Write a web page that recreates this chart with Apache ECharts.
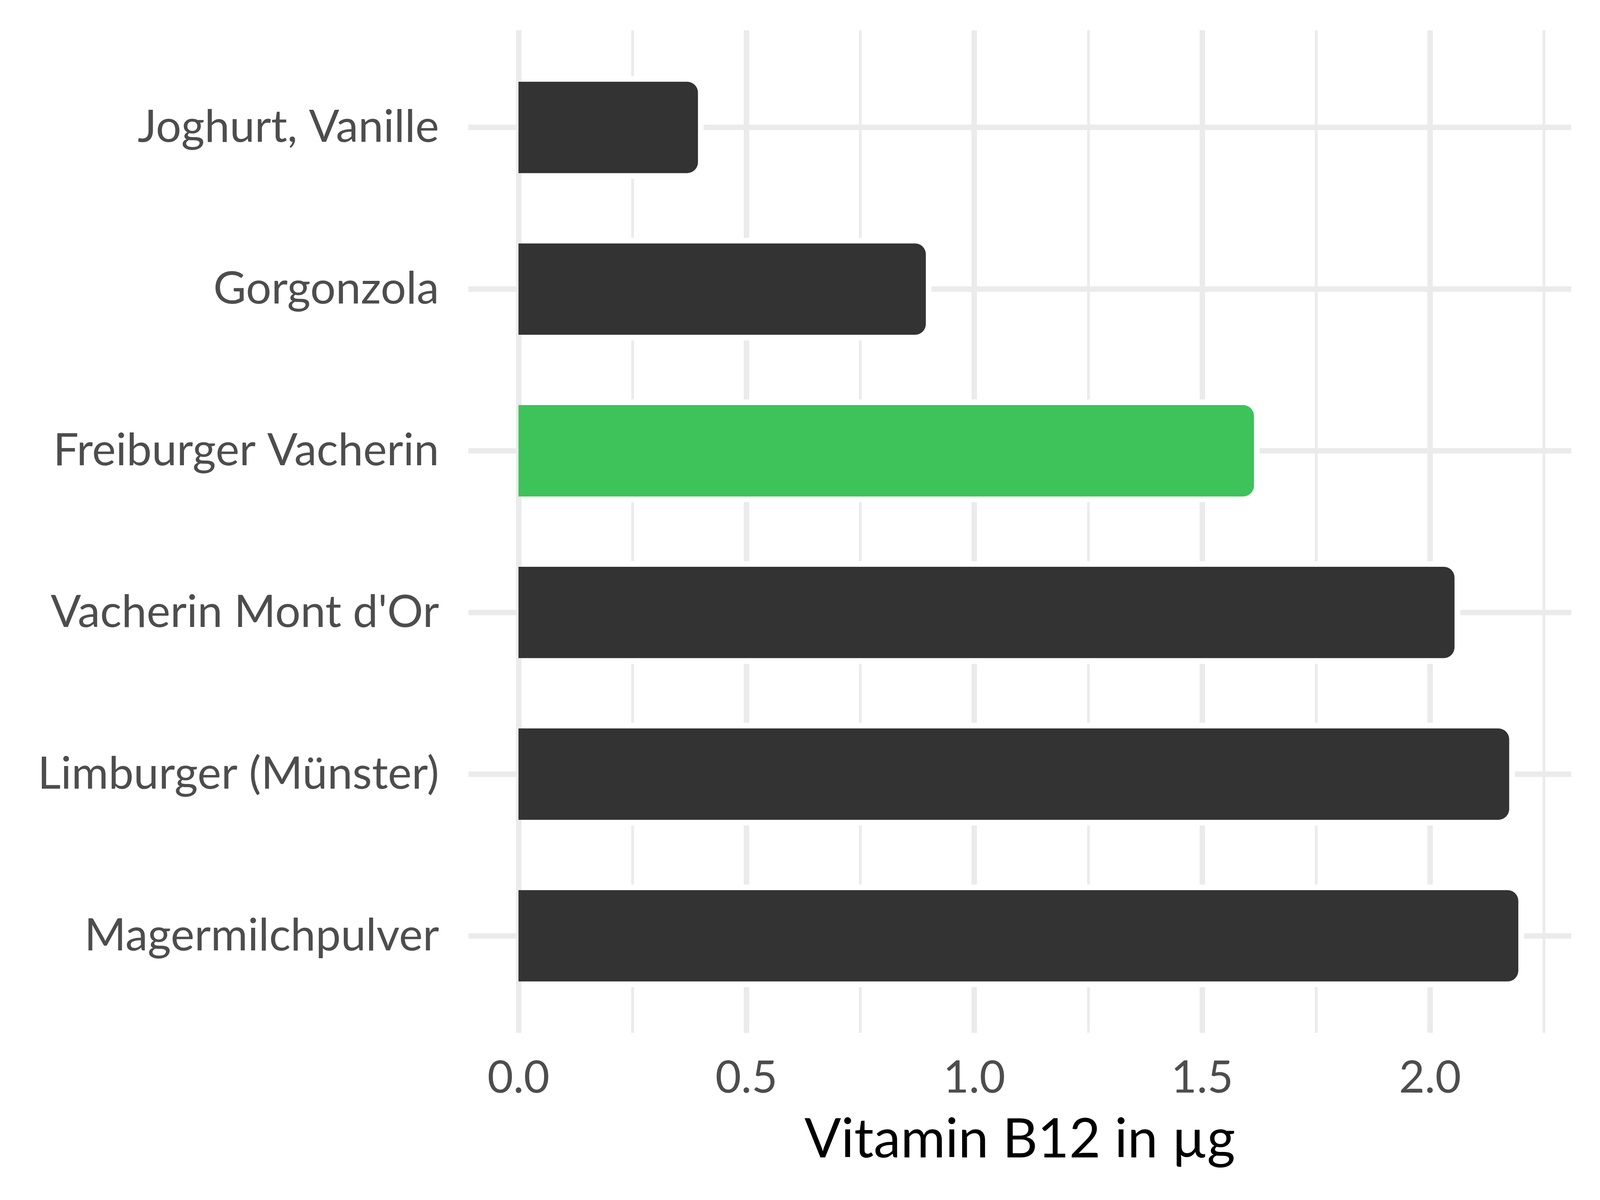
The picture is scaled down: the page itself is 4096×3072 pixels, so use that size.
<!DOCTYPE html>
<html>
<head>
<meta charset="utf-8">
<script src="https://cdn.jsdelivr.net/npm/echarts@6.0.0/dist/echarts.min.js"></script>
<style>
html,body{margin:0;padding:0;background:#ffffff;}
#chart{width:4096px;height:3072px;}
</style>
</head>
<body>
<div id="chart"></div>
<script>
// ---- data ----
const categories = ['Joghurt, Vanille', 'Gorgonzola', 'Freiburger Vacherin', "Vacherin Mont d'Or", 'Limburger (Münster)', 'Magermilchpulver'];
const values = [0.4, 0.9, 1.62, 2.06, 2.18, 2.2];
const highlighted = 'Freiburger Vacherin';
const minorTicks = [0.25, 0.75, 1.25, 1.75, 2.25];
const axisTitle = 'Vitamin B12 in µg';
const xMin = -0.11;
const xMax = 2.31;

// ---- styles ----
const FONT = 'Lato';
const GRID_COLOR = '#EBEBEB';
const BAR_COLOR = '#333333';
const HIGHLIGHT_COLOR = '#3EC25A';
const LABEL_COLOR = '#4D4D4D';
const BAR_FRACTION = 0.6;   // bar thickness as share of the category band
const HALO = 14.5;          // white outline width (px)
const RADIUS = 35;          // corner radius (px)

const chart = echarts.init(document.getElementById('chart'), null, {renderer: 'canvas'});

const barData = values.map((v, i) => ({
  value: [v, i],
  itemStyle: {color: categories[i] === highlighted ? HIGHLIGHT_COLOR : BAR_COLOR}
}));

function renderBar(params, api) {
  const v = api.value(0);
  const ci = api.value(1);
  const base = api.coord([0, ci]);
  const end = api.coord([v, ci]);
  const band = api.size([0, 1])[1];
  const h = band * BAR_FRACTION;
  const len = end[0] - base[0];
  const color = api.visual('color');
  return {
    type: 'group',
    children: [
      {
        type: 'rect',
        shape: {x: base[0] + 10, y: base[1] - h / 2 - HALO / 2, width: len + HALO / 2 - 10, height: h + HALO,
          r: [0, RADIUS + HALO / 2, RADIUS + HALO / 2, 0]},
        style: {fill: '#ffffff'}
      },
      {
        type: 'rect',
        shape: {x: base[0], y: base[1] - h / 2 + HALO / 2, width: len - HALO / 2, height: h - HALO,
          r: [0, RADIUS - HALO / 2, RADIUS - HALO / 2, 0]},
        style: {fill: color}
      }
    ]
  };
}

const option = {
  backgroundColor: '#ffffff',
  animation: false,
  grid: [
    // bar area (category bands)
    {left: 1199, right: 73.5, top: 119.3, bottom: 469.4},
    // full panel (for vertical gridlines and x axis)
    {left: 1199, right: 73.5, top: 77.6, bottom: 428}
  ],
  xAxis: [
    {
      gridIndex: 0, type: 'value', min: xMin, max: xMax, show: false
    },
    {
      gridIndex: 1, type: 'value', min: xMin, max: xMax,
      axisLine: {show: false}, axisTick: {show: false},
      splitLine: {show: true, showMinLine: false, showMaxLine: false,
        lineStyle: {color: GRID_COLOR, width: 14, type: 'solid'}},
      axisLabel: {
        show: true, showMinLabel: false, showMaxLabel: false,
        formatter: v => v.toFixed(1),
        fontFamily: FONT, fontSize: 114, lineHeight: 114, color: LABEL_COLOR, margin: 59
      },
      name: axisTitle, nameLocation: 'middle', nameGap: 205,
      nameTextStyle: {fontFamily: FONT, fontSize: 139, lineHeight: 139, color: '#000000'}
    }
  ],
  yAxis: [
    {
      gridIndex: 0, type: 'category', data: categories, inverse: true,
      axisLine: {show: false}, axisTick: {show: false}, splitLine: {show: false},
      axisLabel: {fontFamily: FONT, fontSize: 115, color: LABEL_COLOR, margin: 75, padding: [10, 0, 0, 0]}
    },
    {
      gridIndex: 1, type: 'value', min: 0, max: 1, show: false
    }
  ],
  series: [
    {
      type: 'custom', xAxisIndex: 0, yAxisIndex: 0,
      data: barData,
      encode: {x: 0, y: 1},
      renderItem: renderBar,
      z: 2,
      silent: true
    },
    {
      type: 'line', xAxisIndex: 0, yAxisIndex: 0,
      data: [],
      z: 1,
      markLine: {
        silent: true, z: 1, symbol: ['none', 'none'],
        label: {show: false},
        lineStyle: {color: GRID_COLOR, width: 14, type: 'solid'},
        emphasis: {disabled: true},
        data: categories.map(c => ({yAxis: c}))
      }
    },
    {
      type: 'line', xAxisIndex: 1, yAxisIndex: 1,
      data: [],
      z: 1,
      markLine: {
        silent: true, z: 1, symbol: ['none', 'none'],
        label: {show: false},
        lineStyle: {color: GRID_COLOR, width: 7, type: 'solid'},
        emphasis: {disabled: true},
        data: minorTicks.map(t => ({xAxis: t}))
      }
    }
  ]
};

chart.setOption(option);
</script>
</body>
</html>
